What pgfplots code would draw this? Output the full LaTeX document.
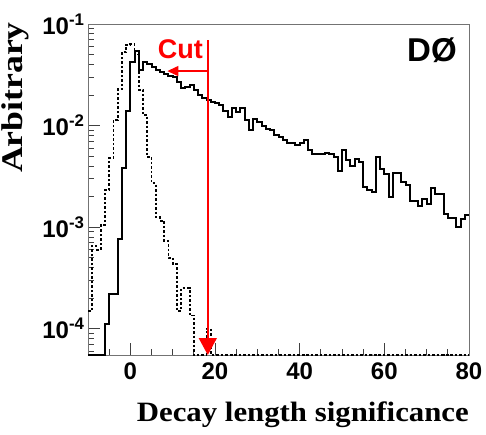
\documentclass[border=0pt]{standalone}
\usepackage{fontspec}
\setmainfont{Liberation Serif}
\newfontfamily\sansb{Liberation Sans}
\usepackage{graphicx}
\usepackage{pgfplots}
\usepackage{pgfplotstable}
\pgfplotsset{compat=1.18}
\usetikzlibrary{arrows.meta}

% bin left edge, solid (signal), dotted (background); 5.5e-5 = empty bin (drawn on frame)
\pgfplotstableread{
x s d
-10 5.5e-5 1.5e-4
-9 5.5e-5 6.5e-4
-8 5.5e-5 6.0e-4
-7 5.5e-5 1.05e-3
-6 1.12e-4 2.3e-3
-5 2.2e-4 4.75e-3
-4 2.2e-4 0.0113
-3 7.7e-4 0.0227
-2 3.8e-3 0.053
-1 0.014 0.062
0 0.042 0.063
1 0.054 0.050
2 0.035 0.0225
3 0.0425 0.0127
4 0.040 0.0049
5 0.038 0.0027
6 0.0355 0.00125
7 0.034 0.00115
8 0.032 7.3e-4
9 0.031 5.0e-4
10 0.030 4.3e-4
11 0.027 1.5e-4
12 0.0232 2.5e-4
13 0.0241 2.5e-4
14 0.025 1.35e-4
15 0.0224 5.5e-5
16 0.020 5.5e-5
17 0.0188 5.5e-5
18 0.0178 1.0e-4
19 0.0172 5.5e-5
20 0.0168 5.5e-5
21 0.0159 5.5e-5
22 0.0139 5.5e-5
23 0.0122 5.5e-5
24 0.0148 5.5e-5
25 0.0137 5.5e-5
26 0.0148 5.5e-5
27 0.0113 5.5e-5
28 0.0090 5.5e-5
29 0.0115 5.5e-5
30 0.0108 5.5e-5
31 0.0099 5.5e-5
32 0.0092 5.5e-5
33 0.0090 5.5e-5
34 0.0081 5.5e-5
35 0.0077 5.5e-5
36 0.0072 5.5e-5
37 0.0068 5.5e-5
38 0.0067 5.5e-5
39 0.0064 5.5e-5
40 0.0067 5.5e-5
41 0.0072 5.5e-5
42 0.0057 5.5e-5
43 0.0053 5.5e-5
44 0.0052 5.5e-5
45 0.0053 5.5e-5
46 0.0054 5.5e-5
47 0.0052 5.5e-5
48 0.0049 5.5e-5
49 0.0036 5.5e-5
50 0.0058 5.5e-5
51 0.0046 5.5e-5
52 0.0040 5.5e-5
53 0.0047 5.5e-5
54 0.0044 5.5e-5
55 0.0025 5.5e-5
56 0.0023 5.5e-5
57 0.0022 5.5e-5
58 0.0049 5.5e-5
59 0.0037 5.5e-5
60 0.0033 5.5e-5
61 0.0020 5.5e-5
62 0.0034 5.5e-5
63 0.0034 5.5e-5
64 0.0028 5.5e-5
65 0.0026 5.5e-5
66 0.0018 5.5e-5
67 0.0018 5.5e-5
68 0.0016 5.5e-5
69 0.0019 5.5e-5
70 0.0017 5.5e-5
71 0.0024 5.5e-5
72 0.0021 5.5e-5
73 0.0021 5.5e-5
74 0.00135 5.5e-5
75 0.00123 5.5e-5
76 0.00123 5.5e-5
77 0.00100 5.5e-5
78 0.00120 5.5e-5
79 0.00132 5.5e-5
80 0.00132 5.5e-5
}\hist

\begin{document}
\begin{tikzpicture}
\useasboundingbox (0,0) rectangle (486pt,435pt);
\begin{axis}[
  at={(88pt,80pt)}, anchor=south west,
  scale only axis, width=381pt, height=331pt,
  xmin=-10, xmax=80, ymin=5.5e-5, ymax=0.1, ymode=log,
  xtick={0,20,40,60,80}, xticklabels={0,20,40,60,80},
  minor xtick={-5,5,10,15,25,30,35,45,50,55,65,70,75},
  ytick={1e-4,1e-3,1e-2,1e-1},
  yticklabels={10\textsuperscript{-4},10\textsuperscript{-3},10\textsuperscript{-2},10\textsuperscript{-1}},
  minor ytick={6e-5,7e-5,8e-5,9e-5,2e-4,3e-4,4e-4,5e-4,6e-4,7e-4,8e-4,9e-4,2e-3,3e-3,4e-3,5e-3,6e-3,7e-3,8e-3,9e-3,2e-2,3e-2,4e-2,5e-2,6e-2,7e-2,8e-2,9e-2},
  tick align=inside, xtick pos=bottom, ytick pos=left,
  major tick length=12pt, minor tick length=6pt,
  tick style={black!75, line width=0.8pt},
  axis line style={black!55, line width=0.8pt},
  ticklabel style={font=\fontsize{24}{24}\selectfont\sansb\bfseries},
  xticklabel style={yshift=-4pt},
  xlabel={\scalebox{1.1}[1]{Decay length significance}},
  xlabel style={at={(axis description cs:1,0)}, anchor=base east, yshift=-66.7pt, inner sep=0pt, font=\fontsize{28}{28}\selectfont\bfseries},
  ylabel={\scalebox{1.19}[1]{Arbitrary}},
  ylabel style={at={(axis description cs:-0.2283,1.006)}, anchor=north east, inner sep=0pt, font=\fontsize{30}{30}\selectfont\bfseries},
]
\addplot[const plot, black, line width=1.8pt, dash pattern=on 2.5pt off 2pt] table[x=x,y=d]{\hist};
\addplot[const plot, black, line width=2pt] table[x=x,y=s]{\hist};
\draw[red, line width=1.5pt, -{Triangle[width=18pt,length=17pt]}] (axis cs:18.3,0.0695) -- (axis cs:18.3,5.5e-5);
\draw[red, line width=1.5pt, -{Triangle[width=10pt,length=11pt]}] (axis cs:18.3,0.0344) -- (axis cs:8.75,0.0344);
\node[red, font=\fontsize{27}{27}\selectfont\sansb\bfseries] at (axis cs:11.8,0.0568) {Cut};
\node[font=\fontsize{33}{33}\selectfont\sansb\bfseries] at (axis cs:71.25,0.0555) {DØ};
\end{axis}
\end{tikzpicture}
\end{document}
